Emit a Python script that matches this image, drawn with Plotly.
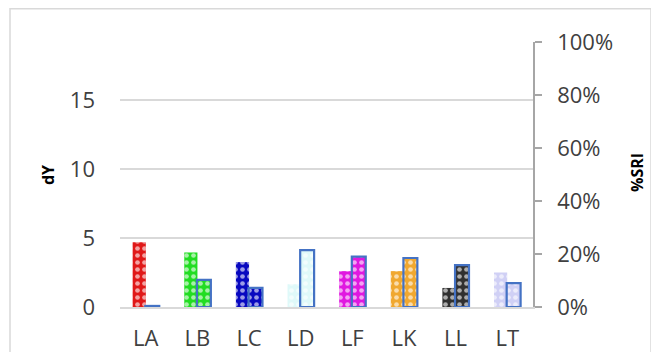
import plotly.graph_objects as go

categories = ["LA", "LB", "LC", "LD", "LF", "LK", "LL", "LT"]
dY = [4.7, 3.95, 3.25, 1.65, 2.6, 2.6, 1.38, 2.5]
sri = [0.004, 0.102, 0.072, 0.215, 0.19, 0.185, 0.158, 0.09]
colors = ["#e01818", "#22dd22", "#0808c0", "#dff9f9", "#e018e0", "#f0a830", "#303030", "#d0d0f5"]

# page is offset by the default 8px body margin, so the figure is laid out 8px smaller
W, H = 651, 344
L, R, T, B = 112, 126, 34, 45
pw, ph = W - L - R, H - T - B

P_OFF, P_W = -0.255, 0.255
S_OFF, S_W = -0.01, 0.27
dots = dict(color="rgba(255,255,255,0.6)", line=dict(width=0),
            pattern=dict(shape=".", fillmode="replace", size=7, solidity=0.35))

fig = go.Figure()
# primary (dY) bars: solid colour + sphere-like dot texture
fig.add_trace(go.Bar(x=categories, y=dY, yaxis="y", offset=P_OFF, width=P_W,
                     marker=dict(color=colors, line=dict(width=0)), showlegend=False))
fig.add_trace(go.Bar(x=categories, y=dY, yaxis="y", offset=P_OFF, width=P_W,
                     marker=dots, showlegend=False, hoverinfo="skip"))
# secondary (%SRI) bars: same texture, blue outline
fig.add_trace(go.Bar(x=categories, y=sri, yaxis="y2", offset=S_OFF, width=S_W,
                     marker=dict(color=colors, line=dict(width=0)), showlegend=False))
fig.add_trace(go.Bar(x=categories, y=sri, yaxis="y2", offset=S_OFF, width=S_W,
                     marker=dots, showlegend=False, hoverinfo="skip"))
fig.add_trace(go.Bar(x=categories, y=sri, yaxis="y2", offset=S_OFF, width=S_W,
                     marker=dict(color="rgba(0,0,0,0)", line=dict(width=2.2, color="#4472C4")),
                     showlegend=False, hoverinfo="skip"))

font = dict(family="Open Sans", size=22, color="#404040")
fig.update_layout(
    width=W, height=H, margin=dict(l=L, r=R, t=T, b=B),
    paper_bgcolor="white", plot_bgcolor="white", barmode="overlay",
    font=font,
    xaxis=dict(showgrid=False, showline=True, linecolor="#d9d9d9", linewidth=1.5,
               ticks="", tickfont=font, ticklabelstandoff=11, range=[-0.5, 7.5], automargin=False),
    yaxis=dict(range=[0, 19.2], tickvals=[0, 5, 10, 15], showgrid=True, gridcolor="#d9d9d9",
               gridwidth=1.5, zeroline=False, showline=False, ticks="", tickfont=font,
               ticklabelstandoff=24, automargin=False),
    yaxis2=dict(range=[0, 1], overlaying="y", side="right", tickvals=[0, 0.2, 0.4, 0.6, 0.8, 1.0],
                tickformat=".0%", showgrid=False, zeroline=False, showline=True,
                linecolor="#a6a6a6", linewidth=1.5, ticks="outside", ticklen=7,
                tickcolor="#a6a6a6", tickwidth=1.5, tickfont=font, ticklabelstandoff=11,
                automargin=False),
    annotations=[
        dict(text="<b>dY</b>", textangle=-90, xref="paper", yref="paper",
             x=(40 - L) / pw, y=(H - B - 167) / ph, showarrow=False,
             xanchor="center", yanchor="middle",
             font=dict(family="Open Sans", size=16, color="#000000")),
        dict(text="<b>%SRI</b>", textangle=-90, xref="paper", yref="paper",
             x=(629 - L) / pw, y=(H - B - 165) / ph, showarrow=False,
             xanchor="center", yanchor="middle",
             font=dict(family="Open Sans", size=16, color="#000000")),
    ],
    shapes=[dict(type="rect", xref="paper", yref="paper",
                 x0=(2 - L) / pw, x1=(643 - L) / pw,
                 y0=(H - B - 370) / ph, y1=(H - B - 0.75) / ph,
                 line=dict(color="#d9d9d9", width=1.5), fillcolor="rgba(0,0,0,0)", layer="below")],
)

fig.write_html("out.html")
